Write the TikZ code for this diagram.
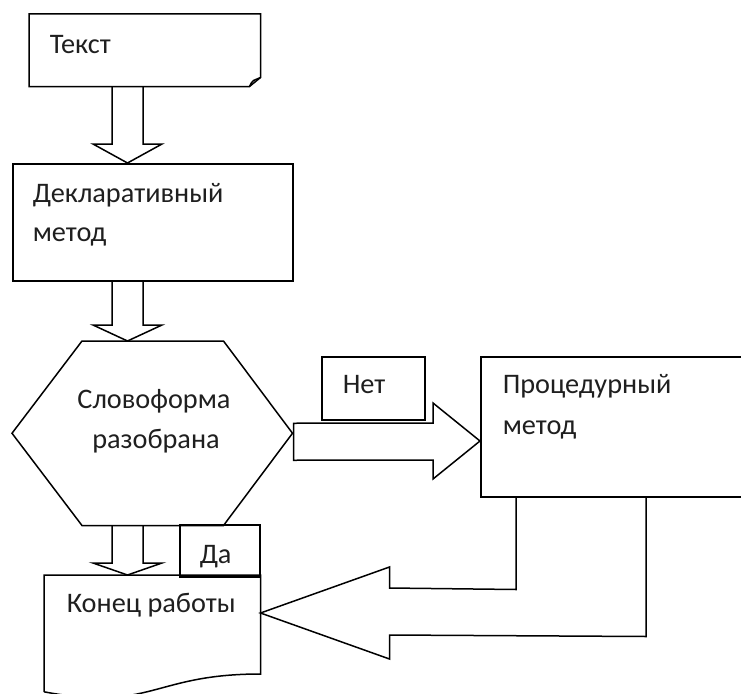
\documentclass[tikz,border=0pt]{standalone}
\usepackage{fontspec}
\setmainfont{Carlito}
\usetikzlibrary{calc}

% block arrow pointing down: #1 point on the upper edge, #2 tip, #3 head length
\newcommand\blkdown[3]{%
  \draw[blk] let \p1=(#1), \p2=(#2) in
    (\x2-15.5pt,\y1) -- (\x2-15.5pt,\y2+#3) -- (\x2-34.5pt,\y2+#3) -- (\p2)
    -- (\x2+34.5pt,\y2+#3) -- (\x2+15.5pt,\y2+#3) -- (\x2+15.5pt,\y1);}

\begin{document}
\begin{tikzpicture}[x=1pt,y=-1pt,line width=1.5pt,line join=miter,
  frame/.style={inner sep=0pt,anchor=north west,draw=none},
  boxn/.style={draw,rectangle,inner sep=0pt,anchor=north west},
  lbl/.style={font=\fontsize{28.3}{34}\selectfont,inner sep=0pt,anchor=base west,text=black!88},
  blk/.style={draw,line width=1.5pt}]
\useasboundingbox (0,0) rectangle (741,693);
\clip (0,0) rectangle (741,693);

% folded-corner sheet
\node[frame,minimum width=230pt,minimum height=71pt] (txt) at (29,14) {};
\draw (txt.north west) -- (txt.north east) -- ($(txt.south east)+(0,-9)$)
  -- ($(txt.south east)+(-11,0)$) -- (txt.south west) -- cycle;
\draw ($(txt.south east)+(-11,0)$) .. controls ($(txt.south east)+(-9,-4)$) .. ($(txt.south east)+(-7,-6)$)
  -- ($(txt.south east)+(0,-9)$);

% process boxes
\node[boxn,minimum width=280pt,minimum height=117pt] (decl) at (12,163) {};
\node[boxn,minimum width=103pt,minimum height=63pt] (no) at (321,356) {};
\node[boxn,minimum width=290pt,minimum height=140pt] (proc) at (480,356) {};
\node[boxn,minimum width=80pt,minimum height=52pt] (yes) at (179,524) {};

% decision hexagon
\node[frame,minimum width=279pt,minimum height=183pt] (hex) at (12,341) {};
\draw ($(hex.north west)+(70,0)$) -- ($(hex.north east)+(-69,0)$) -- (hex.east)
  -- ($(hex.south east)+(-69,0)$) -- ($(hex.south west)+(70,0)$) -- (hex.west) -- cycle;

% document sheet with wavy lower edge
\node[frame,minimum width=215pt,minimum height=123.4pt] (fin) at (44,575) {};
\draw ($(fin.south west)+(0,-8.1)$) -- (fin.north west) -- (fin.north east)
  -- ($(fin.north east)+(0,99)$)
  .. controls ($(fin.north)+(0,99)$) and ($(fin.north)+(0,137)$) .. ($(fin.south west)+(0,-8.1)$);

% block arrows
\blkdown{txt.south}{$(decl.north west)+(115.5,0)$}{19pt}
\blkdown{decl.south}{$(hex.north west)+(115.5,0)$}{16pt}
\blkdown{hex.south}{$(fin.north west)+(83.5,0)$}{12pt}

\draw[blk] (hex.east) ++(1,-10) coordinate (r0)
  -- ($(proc.north west)+(-47,67)$) -- ($(proc.north west)+(-47,47)$)
  -- ($(proc.north west)+(0,85)$) coordinate (rtip)
  -- ($(proc.north west)+(-47,123)$) -- ($(proc.north west)+(-47,104)$)
  -- ($(hex.east)+(1,27)$) -- cycle;

\draw[blk] ($(proc.south west)+(36,0)$) -- ($(proc.south west)+(36,92)$)
  -- ($(fin.north east)+(129,13)$) -- ($(fin.north east)+(129,-8)$)
  -- ($(fin.north east)+(0,38)$) coordinate (ltip)
  -- ($(fin.north east)+(129,84)$) -- ($(fin.north east)+(129,60)$)
  -- ($(proc.south west)+(166,139)$) -- ($(proc.south west)+(166,0)$);

% labels
\node[lbl] (l1) at (49,53) {Текст};
\node[lbl] (l2) at (32,202) {Декларативный};
\node[lbl] (l3) at (32,241) {метод};
\node[lbl,anchor=base] (l4) at (154,408) {Словоформа};
\node[lbl,anchor=base] (l5) at (156,448) {разобрана};
\node[lbl] (l6) at (342,393) {Нет};
\node[lbl] (l7) at (502,393) {Процедурный};
\node[lbl] (l8) at (502,434) {метод};
\node[lbl] (l9) at (199,563) {Да};
\node[lbl] (l10) at (66,612) {Конец работы};
\end{tikzpicture}
\end{document}
